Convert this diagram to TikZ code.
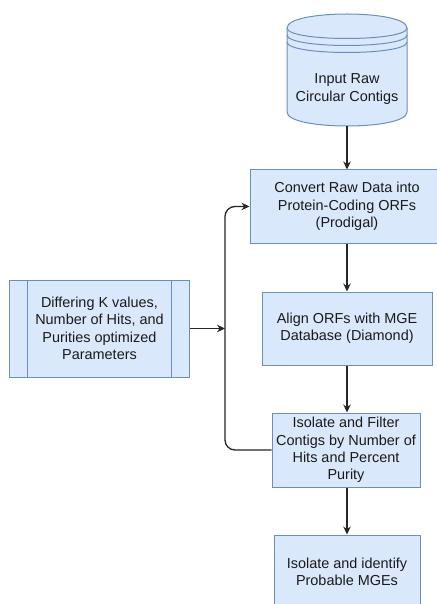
\documentclass[tikz,border=0pt]{standalone}
\usepackage{fontspec}
\setmainfont{Liberation Sans}
\usetikzlibrary{arrows.meta}
\definecolor{boxfill}{HTML}{DAE8FC}
\definecolor{boxdraw}{HTML}{6C8EBF}
\definecolor{txt}{HTML}{1A1A1A}
\tikzset{
  box/.style={draw=boxdraw, fill=boxfill, line width=1bp, align=center,
    text=txt, font=\fontsize{14.5}{17.4}\selectfont, inner sep=0pt},
  lbl/.style={align=center, text=txt, font=\fontsize{14.5}{17.4}\selectfont, inner sep=0pt},
  conn/.style={draw=black!85, line width=1.3bp, -{Stealth[length=8bp,width=7.5bp]}},
}
\begin{document}
\begin{tikzpicture}[x=1bp, y=-1bp]
\useasboundingbox (0,0) rectangle (437,604);
\fill[white] (0,0) rectangle (437,604);
\clip (0,0) rectangle (437,604);
% cylinder (datastore)
\filldraw[draw=boxdraw, fill=boxfill, line width=1bp]
  (287,28) .. controls (287,9.33) and (407,9.33) .. (407,28) -- (407,112)
  .. controls (407,130.67) and (287,130.67) .. (287,112) -- cycle;
\draw[boxdraw, line width=1bp] (287,28) .. controls (287,42) and (407,42) .. (407,28);
\draw[boxdraw, line width=1bp] (287,35) .. controls (287,49) and (407,49) .. (407,35);
\draw[boxdraw, line width=1bp] (287,42) .. controls (287,56) and (407,56) .. (407,42);
\node[lbl] (dbtext) at (347,89) {Input Raw\\Circular Contigs};
\coordinate (dbbottom) at (347,126);

\node[box, minimum width=194bp, minimum height=73bp] (b1) at (347,206.5)
  {Convert Raw Data into\\Protein-Coding ORFs\\(Prodigal)};
\node[box, minimum width=170bp, minimum height=73bp] (b2) at (347,328.5)
  {Align ORFs with MGE\\Database (Diamond)};
\node[box, minimum width=148bp, minimum height=74bp] (b3) at (346,450)
  {Isolate and Filter\\Contigs by Number of\\Hits and Percent\\Purity};
\node[box, minimum width=146bp, minimum height=74bp] (b4) at (347,572)
  {Isolate and identify\\Probable MGEs};
\node[box, minimum width=179bp, minimum height=97bp] (lp) at (99.5,328.5)
  {Differing K values,\\Number of Hits, and\\Purities optimized\\Parameters};
\draw[boxdraw, line width=1bp] ([xshift=18bp]lp.north west) -- ([xshift=18bp]lp.south west);
\draw[boxdraw, line width=1bp] ([xshift=-18bp]lp.north east) -- ([xshift=-18bp]lp.south east);

\coordinate (j) at (225,328.5);
\draw[conn] (dbbottom) -- (b1.north);
\draw[conn] (b1.south) -- (b2.north);
\draw[conn] (b2.south) -- (b3.north -| b2.south);
\draw[conn] (b3.south -| b4.north) -- (b4.north);
\draw[conn] (lp.east) -- (j);
\draw[conn, rounded corners=10bp] (b3.west) -| (j) |- (b1.west);
\end{tikzpicture}
\end{document}
